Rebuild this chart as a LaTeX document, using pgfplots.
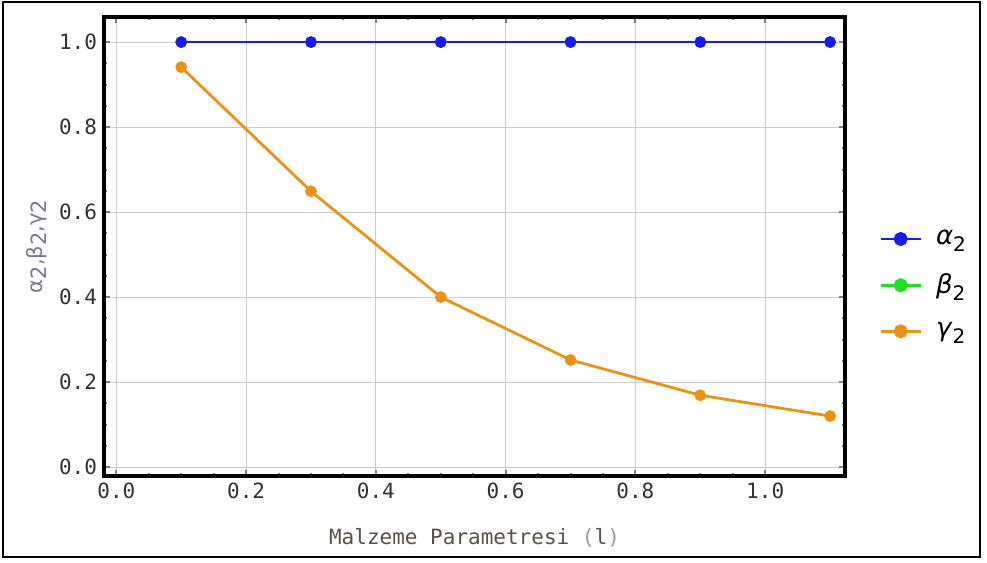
\documentclass[border=0pt]{standalone}
\usepackage{fontspec}
\setmainfont{DejaVu Sans}
\setmonofont{DejaVu Sans Mono}
\usepackage{pgfplots}
\pgfplotsset{compat=1.18}
\definecolor{mblue}{RGB}{25,25,245}
\definecolor{mgreen}{RGB}{30,225,30}
\definecolor{morange}{RGB}{235,145,20}
\definecolor{tickcol}{RGB}{50,50,50}
\definecolor{labcol}{RGB}{90,80,70}
\definecolor{ylabcol}{RGB}{120,120,150}
\newcommand{\gsub}[1]{\textit{#1}\raisebox{-0.45ex}{\fontsize{10}{12}\selectfont 2}}
\begin{document}
\begin{tikzpicture}
\path[use as bounding box] (0,0) rectangle (493.5pt,281.5pt);
\draw[line width=1pt] (1.5pt,3pt) rectangle (490pt,280.5pt);
\begin{axis}[
  at={(52pt,43.5pt)}, anchor=south west,
  scale only axis, width=370.5pt, height=229.5pt,
  xmin=-0.019, xmax=1.123, ymin=-0.021, ymax=1.059,
  xtick={0,0.2,0.4,0.6,0.8,1.0},
  ytick={0,0.2,0.4,0.6,0.8,1.0},
  minor x tick num=3, minor y tick num=3,
  xticklabel style={/pgf/number format/.cd,fixed,fixed zerofill,precision=1},
  yticklabel style={/pgf/number format/.cd,fixed,fixed zerofill,precision=1},
  /pgf/number format/assume math mode=true,
  ticklabel style={font=\ttfamily\fontsize{10.5}{12}\selectfont, text=tickcol},
  tick align=inside,
  major tick length=3pt, minor tick length=1.5pt,
  every tick/.style={gray, line width=1pt},
  grid=major,
  major grid style={line width=0.5pt, draw=black!20},
  axis line style={line width=1.8pt},
  xlabel={Malzeme Parametresi \textcolor{black!40}{(}l\textcolor{black!40}{)}},
  xlabel style={font=\ttfamily\fontsize{10.5}{12}\selectfont, text=labcol, yshift=-8pt},
  ylabel={α\raisebox{-0.3ex}{2},β\raisebox{-0.3ex}{2},γ\raisebox{-0.3ex}{2}},
  ylabel style={font=\fontsize{10.5}{12}\selectfont, text=ylabcol, yshift=-1pt},
  legend style={at={(1,0.416)}, anchor=west, xshift=17pt, draw=none, fill=none,
    font=\fontsize{13}{15}\selectfont, row sep=9pt, inner sep=0pt,
    nodes={inner xsep=7pt}},
  legend cell align=left,
  legend image code/.code={\draw[mark repeat=2,mark phase=2,#1] plot coordinates {(0cm,0cm) (0.35cm,0cm) (0.7cm,0cm)};},
]
\addlegendimage{mblue, line width=1.4pt, mark=*, mark size=2.8pt}
\addlegendentry{\gsub{α}}
\addlegendimage{mgreen, line width=1.4pt, mark=*, mark size=2.8pt}
\addlegendentry{\gsub{β}}
\addlegendimage{morange, line width=1.4pt, mark=*, mark size=2.8pt}
\addlegendentry{\gsub{γ}}
\addplot[mgreen, line width=1.4pt, mark=*, mark size=2.2pt, forget plot] coordinates {(0.1,1) (0.3,1) (0.5,1) (0.7,1) (0.9,1) (1.1,1)};
\addplot[mblue, line width=1.4pt, mark=*, mark size=2.2pt, forget plot] coordinates {(0.1,1) (0.3,1) (0.5,1) (0.7,1) (0.9,1) (1.1,1)};
\addplot[morange, line width=1.4pt, mark=*, mark size=2.2pt, forget plot] coordinates {(0.1,0.941) (0.3,0.649) (0.5,0.400) (0.7,0.252) (0.9,0.169) (1.1,0.120)};
\end{axis}
\end{tikzpicture}
\end{document}
